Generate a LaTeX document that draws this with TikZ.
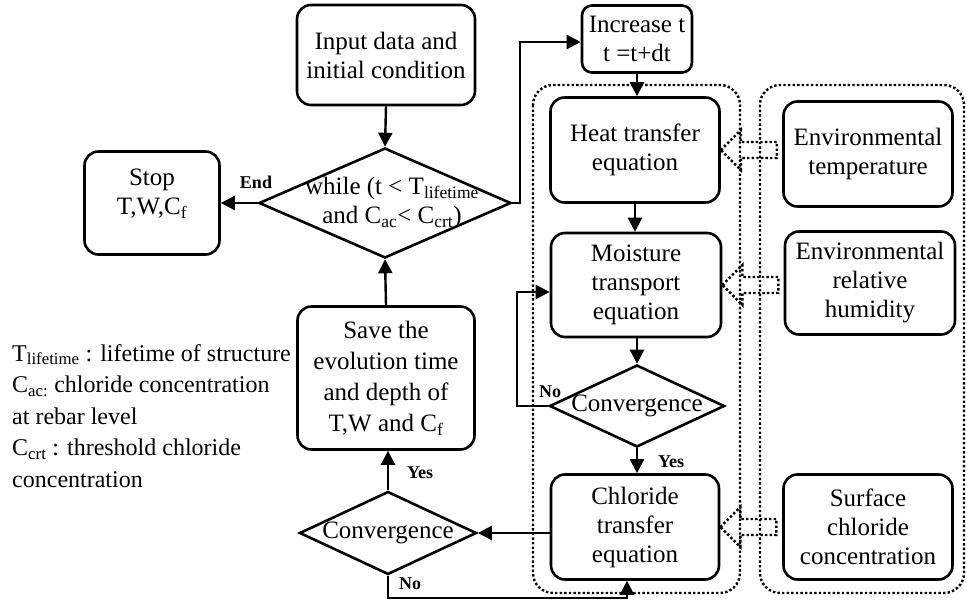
\documentclass[tikz,border=0pt]{standalone}
\usepackage{fontspec}
\setmainfont{Liberation Serif}
\usetikzlibrary{shapes.geometric,arrows.meta}
\begin{document}
\begin{tikzpicture}[x=1pt,y=-1pt,
  box/.style={draw, line width=2.6pt, rounded corners=14pt, align=center, inner sep=0pt, font=\fontsize{25}{29}\selectfont},
  dia/.style={draw, diamond, line width=2.6pt, inner sep=0pt},
  txt/.style={align=center, inner sep=0pt, font=\fontsize{25}{29}\selectfont},
  arr/.style={line width=2.4pt, -{Triangle[length=14pt,width=14pt]}},
  lab/.style={inner sep=0pt, font=\fontsize{18}{20}\selectfont\bfseries},
  dot/.style={line width=2.4pt, dash pattern=on 2.4pt off 2.2pt},
]
\useasboundingbox (0,0) rectangle (967,602);

% dotted containers
\draw[dot, rounded corners=20pt] (533,85) rectangle (740,593);
\draw[dot, rounded corners=20pt] (760,85) rectangle (964,593);

% main column
\node[box, minimum width=178pt, minimum height=100pt] (inp) at (386,55) {Input data and\\initial condition};
\node[dia, minimum width=252pt, minimum height=110pt] (wh) at (385,203) {};
\node[txt] (whtxt) at (392,203) {while (t < T\textsubscript{lifetime}\\and C\textsubscript{ac}< C\textsubscript{crt})};
\node[box, minimum width=135pt, minimum height=103pt] (stop) at (152,203) {};
\node[txt] (stoptxt) at (152,194) {Stop\\T,W,C\textsubscript{f}};
\node[box, minimum width=177pt, minimum height=143pt, font=\fontsize{25}{31}\selectfont] (save) at (386,378) {Save the\\evolution time\\and depth of\\T,W and C\textsubscript{f}};
\node[dia, minimum width=177pt, minimum height=83pt] (cv2) at (388,533) {};
\node[txt] (cv2txt) at (388,533) {Convergence};

% right column
\node[box, minimum width=110pt, minimum height=67pt, rounded corners=10pt] (inc) at (637,39) {Increase t\\t =t+dt};
\node[box, minimum width=169pt, minimum height=105pt] (heat) at (635,150) {Heat transfer\\equation};
\node[box, minimum width=170pt, minimum height=104pt] (moist) at (636,285) {Moisture\\transport\\equation};
\node[dia, minimum width=175pt, minimum height=82pt] (cv1) at (637,406) {};
\node[txt] (cv1txt) at (637,406) {Convergence};
\node[box, minimum width=168pt, minimum height=105pt] (chl) at (635,527) {Chloride\\transfer\\equation};

\node[box, minimum width=169pt, minimum height=105pt] (envt) at (868,154) {Environmental\\temperature};
\node[box, minimum width=170pt, minimum height=103pt] (envh) at (870,283) {Environmental\\relative\\humidity};
\node[box, minimum width=169pt, minimum height=105pt] (surf) at (868,527) {Surface\\chloride\\concentration};

% legend
\node[anchor=north west, align=left, inner sep=0pt, font=\fontsize{24}{31.5}\selectfont] (legend) at (12,344) {T\textsubscript{lifetime} : lifetime of structure\\C\textsubscript{ac:} chloride concentration\\at rebar level\\C\textsubscript{crt} : threshold chloride\\concentration};

% connectors
\draw[arr] (inp.south) -- (wh.north);
\draw[arr] (wh.west) -- (stop.east);
\node[lab] (lend) at (256,182) {End};
\draw[arr] (wh.east) -- (520,203) |- ([yshift=-3pt]inc.west);
\draw[arr] (inc.south) -- (inc.south |- heat.north);
\draw[arr] (heat.south) -- (heat.south |- moist.north);
\draw[arr] (moist.south -| cv1.north) -- (cv1.north);
\draw[arr] (cv1.west) -- (517,406) |- ([yshift=-7pt]moist.west);
\node[lab] (lno1) at (550,392) {No};
\draw[arr] (cv1.south) -- (cv1.south |- chl.north);
\node[lab] (lyes1) at (671,462) {Yes};
\draw[arr] (chl.west |- cv2.east) -- (cv2.east);
\draw[arr] (cv2.north) -- (cv2.north |- save.south);
\node[lab] (lyes2) at (420,473) {Yes};
\draw[arr] (save.north) -- (wh.south);
\draw[arr] (cv2.south) -- (388,598) -| ([xshift=-8pt]chl.south);
\node[lab] (lno2) at (410,584) {No};

% hollow dotted block arrows
\draw[dot] (heat.east) -- ++(20,-20) -- ++(0,12) -- ++(36,0) -- ++(0,16) -- ++(-36,0) -- ++(0,12) -- cycle;
\draw[dot] (moist.east) -- ++(20,-20) -- ++(0,12) -- ++(36,0) -- ++(0,16) -- ++(-36,0) -- ++(0,12) -- cycle;
\draw[dot] (chl.east) -- ++(20,-20) -- ++(0,12) -- ++(36,0) -- ++(0,16) -- ++(-36,0) -- ++(0,12) -- cycle;
\end{tikzpicture}
\end{document}
